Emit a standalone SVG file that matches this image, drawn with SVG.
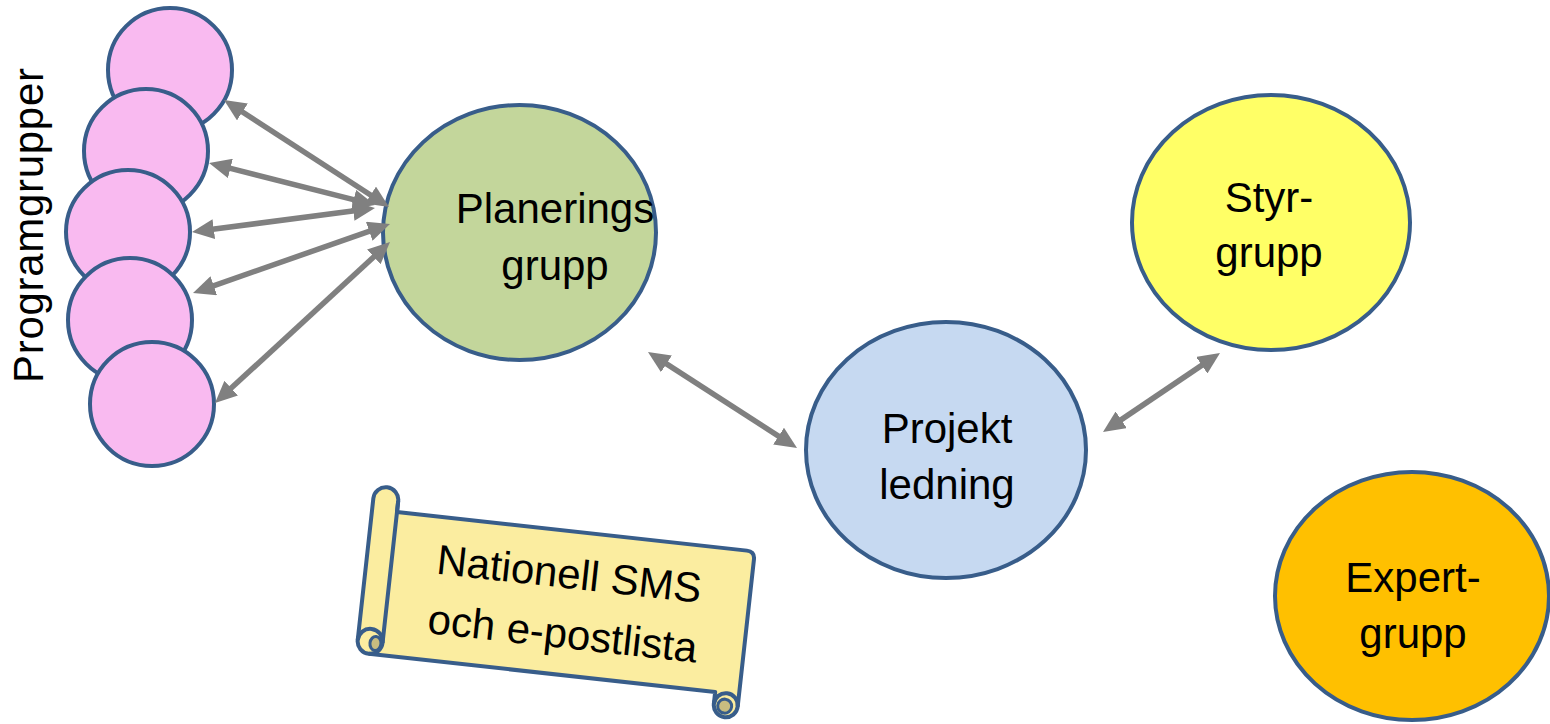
<svg xmlns="http://www.w3.org/2000/svg" width="1550" height="724" viewBox="0 0 1550 724">
<style>
.node{stroke:#385d8a;stroke-width:4}
.pink{fill:#f9baf0}
.lbl{font-family:"Liberation Sans",Arial,sans-serif;font-size:42px;fill:#000;text-anchor:middle}
.conn line{stroke:#808080;stroke-width:5.5;marker-start:url(#ah);marker-end:url(#ah)}
.scroll{fill:#fbeda0;stroke:#385d8a;stroke-width:4;stroke-linejoin:round}
.curl{fill:#c8bd80;stroke:#385d8a;stroke-width:3}
</style>
<defs>
<marker id="ah" markerUnits="userSpaceOnUse" markerWidth="22" markerHeight="20" refX="11" refY="10" orient="auto-start-reverse" viewBox="0 0 22 20">
<path d="M0,0 L22,10 L0,20 Z" fill="#808080"/>
</marker>
</defs>
<rect width="1550" height="724" fill="#ffffff"/>

<g id="programgrupper-label">
<text class="lbl" style="text-anchor:start" transform="translate(43,383) rotate(-90)" textLength="315">Programgrupper</text>
</g>

<g id="pg1"><circle class="node pink" cx="170" cy="70" r="62"/></g>
<g id="pg2"><circle class="node pink" cx="146" cy="151" r="62"/></g>
<g id="pg3"><circle class="node pink" cx="128" cy="232" r="62"/></g>
<g id="pg4"><circle class="node pink" cx="130" cy="320" r="62"/></g>
<g id="pg5"><circle class="node pink" cx="152" cy="404" r="62"/></g>

<g id="planeringsgrupp">
<ellipse class="node" fill="#c3d69b" cx="519.5" cy="232.5" rx="136.5" ry="127.5"/>
<text class="lbl" x="555" y="223">Planerings</text>
<text class="lbl" x="555" y="280">grupp</text>
</g>

<g id="styrgrupp">
<ellipse class="node" fill="#ffff66" cx="1271" cy="222.5" rx="139" ry="127.5"/>
<text class="lbl" x="1269" y="212">Styr-</text>
<text class="lbl" x="1269" y="267">grupp</text>
</g>

<g id="projektledning">
<ellipse class="node" fill="#c6d9f1" cx="946" cy="450" rx="140" ry="128"/>
<text class="lbl" x="947" y="443">Projekt</text>
<text class="lbl" x="947" y="499">ledning</text>
</g>

<g id="expertgrupp">
<ellipse class="node" fill="#ffc000" cx="1412" cy="596" rx="137" ry="124"/>
<text class="lbl" x="1413" y="592">Expert-</text>
<text class="lbl" x="1413" y="648">grupp</text>
</g>

<g id="sms-lista" transform="translate(397,512) rotate(6.3)">
<path class="scroll" d="M0,0 L352,0 Q360,0 360,8 L360,156 A12,12 0 0 1 336,156 L336,144 L-12.5,144 A12.5,12.5 0 0 1 -25,131.5 L-25,-11 A12.5,12.5 0 0 1 0,-11 Z"/>
<path class="scroll" style="fill:none" d="M0,-11 L0,131.5 A12.5,12.5 0 0 1 -12.5,144"/>
<path class="scroll" style="fill:none" d="M-25,131.5 A12.5,12.5 0 0 1 0,131.5"/>
<ellipse class="curl" cx="-7" cy="133" rx="5.5" ry="7"/>
<path class="scroll" style="fill:none" d="M336,156 A12,12 0 0 1 360,156"/>
<circle class="curl" cx="347" cy="157" r="7"/>
<text class="lbl" x="178" y="57">Nationell SMS</text>
<text class="lbl" x="178" y="117">och e-postlista</text>
</g>

<g id="connectors" class="conn">
<line x1="233.2" y1="106" x2="379.8" y2="201"/>
<line x1="219.7" y1="165.7" x2="364.3" y2="202.3"/>
<line x1="202.9" y1="230.6" x2="364.1" y2="209.4"/>
<line x1="203.4" y1="289.4" x2="379.6" y2="227.6"/>
<line x1="223.1" y1="395.6" x2="381.9" y2="249.4"/>
<line x1="657.2" y1="357.9" x2="787.8" y2="442.1"/>
<line x1="1210.9" y1="359.1" x2="1112.1" y2="425.9"/>
</g>
</svg>
